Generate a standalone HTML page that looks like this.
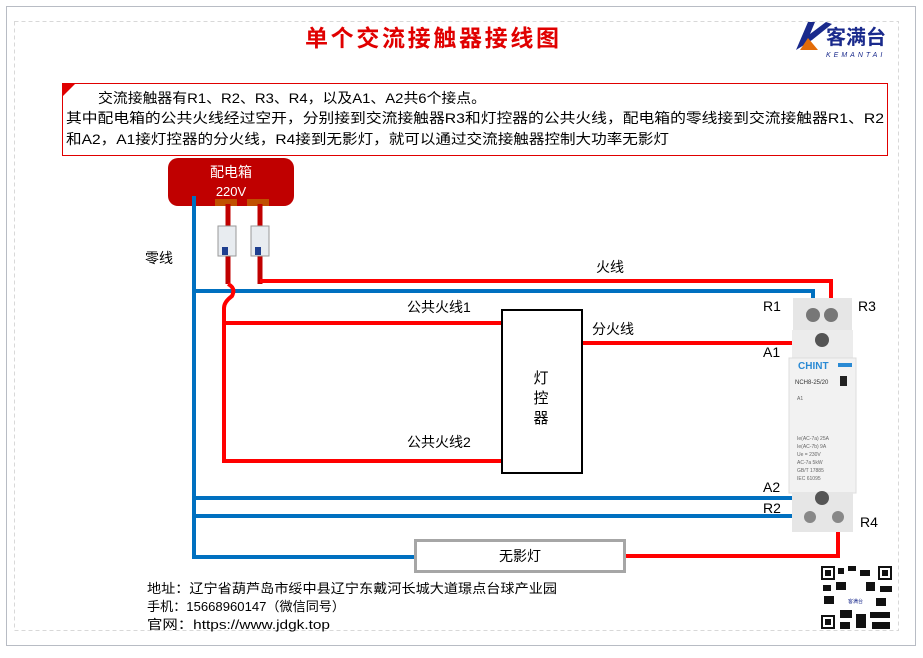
<!DOCTYPE html>
<html><head><meta charset="utf-8"><style>
body{margin:0;width:923px;height:653px;background:#fff;overflow:hidden;font-family:"Liberation Sans","Noto Sans CJK SC",sans-serif}
svg text{font-family:"Liberation Sans","Noto Sans CJK SC",sans-serif}
</style></head><body>
<svg width="923" height="653" xmlns="http://www.w3.org/2000/svg">
<rect x="6.5" y="6.5" width="909" height="639" fill="#fff" stroke="#b8bcc4"/>
<rect x="14.5" y="21.5" width="884" height="609" fill="none" stroke="#d8d8d8" stroke-dasharray="4,3"/>
<text x="432" y="46" text-anchor="middle" font-size="23" font-weight="bold" fill="#e00000" textLength="254">单个交流接触器接线图</text>
<!-- logo -->
<path d="M796 50 L808 22 L815 22 L810 34 L826 22 L832 24 L812 40 Z" fill="#1a2a8c"/>
<path d="M800 50 L808 38 L818 50 Z" fill="#e36c09"/>
<text x="826" y="44" font-size="20" font-weight="bold" fill="#1a2a8c">客满台</text>
<text x="826" y="57" font-size="7" fill="#1a2a8c" letter-spacing="3" font-style="italic">KEMANTAI</text>
<!-- text box -->
<rect x="62.5" y="83.5" width="825" height="72" fill="#fff" stroke="#e00000"/>
<path d="M62 83 L76 83 L62 97 Z" fill="#e00000"/>
<g font-size="14" fill="#000">
<text x="98" y="103" textLength="388" lengthAdjust="spacingAndGlyphs">交流接触器有R1、R2、R3、R4，以及A1、A2共6个接点。</text>
<text x="66" y="123" textLength="818" lengthAdjust="spacingAndGlyphs">其中配电箱的公共火线经过空开，分别接到交流接触器R3和灯控器的公共火线，配电箱的零线接到交流接触器R1、R2</text>
<text x="66" y="144" textLength="603" lengthAdjust="spacingAndGlyphs">和A2，A1接灯控器的分火线，R4接到无影灯，就可以通过交流接触器控制大功率无影灯</text>
</g>
<!-- distribution box -->
<rect x="168" y="158" width="126" height="48" rx="10" fill="#c00000"/>
<text x="231" y="177" text-anchor="middle" font-size="14" fill="#fff">配电箱</text>
<text x="231" y="196" text-anchor="middle" font-size="13" fill="#fff">220V</text>
<rect x="215" y="199" width="22" height="7" fill="#c05000"/>
<rect x="247" y="199" width="22" height="7" fill="#c05000"/>
<!-- blue wires -->
<g stroke="#0070c0" stroke-width="4" fill="none">
<path d="M194 196 V557 H415"/>
<path d="M194 291 H813 V313"/>
<path d="M194 498 H822"/>
<path d="M194 516 H812"/>
</g>
<g stroke="#c00000" stroke-width="5" fill="none">
<path d="M228 204 V284"/><path d="M260 204 V284"/>
</g>
<g stroke="#ff0000" stroke-width="4" fill="none">
<path d="M260 281 H831 V313"/>
<path d="M228 284 q8 4 4 12 q-8 6 -8 12 V461 H502"/>
<path d="M224 323 H502"/>
<path d="M582 343 H822"/>
<path d="M624 556 H838 V520"/>
</g>
<g><rect x="218" y="226" width="18" height="30" fill="#e8ecf0" stroke="#999"/><rect x="222" y="247" width="6" height="8" fill="#1f3f8f"/>
<rect x="251" y="226" width="18" height="30" fill="#e8ecf0" stroke="#999"/><rect x="255" y="247" width="6" height="8" fill="#1f3f8f"/></g>
<rect x="502" y="310" width="80" height="163" fill="#fff" stroke="#000" stroke-width="2"/>
<text x="541" y="383" text-anchor="middle" font-size="15">灯</text>
<text x="541" y="403" text-anchor="middle" font-size="15">控</text>
<text x="541" y="423" text-anchor="middle" font-size="15">器</text>
<rect x="415.5" y="540.5" width="209" height="31" fill="#fff" stroke="#a6a6a6" stroke-width="3"/>
<text x="520" y="561" text-anchor="middle" font-size="14">无影灯</text>
<rect x="793" y="298" width="59" height="34" fill="#e6e6e6"/>
<rect x="792" y="330" width="61" height="30" fill="#ececec"/>
<rect x="789" y="358" width="67" height="135" fill="#f2f2f2" stroke="#ddd"/>
<rect x="792" y="492" width="61" height="40" fill="#e6e6e6"/>
<circle cx="813" cy="315" r="7" fill="#777"/><circle cx="831" cy="315" r="7" fill="#777"/>
<circle cx="822" cy="340" r="7" fill="#555"/><circle cx="822" cy="498" r="7" fill="#555"/>
<circle cx="810" cy="517" r="6" fill="#888"/><circle cx="838" cy="517" r="6" fill="#888"/>
<text x="798" y="369" font-size="10" font-weight="bold" fill="#2a8ad4">CHINT</text>
<rect x="838" y="363" width="14" height="4" fill="#2a8ad4"/>
<text x="795" y="384" font-size="6" fill="#333">NCH8-25/20</text>
<rect x="840" y="376" width="7" height="10" fill="#222"/>
<g font-size="5" fill="#666"><text x="797" y="400">A1</text><text x="797" y="440">Ie(AC-7a) 25A</text><text x="797" y="448">Ie(AC-7b) 9A</text><text x="797" y="456">Ue = 230V</text><text x="797" y="464">AC-7a 5kW</text><text x="797" y="472">GB/T 17885</text><text x="797" y="480">IEC 61095</text></g>
<g font-size="14" fill="#000">
<text x="145" y="263">零线</text>
<text x="596" y="272">火线</text>
<text x="407" y="312">公共火线1</text>
<text x="592" y="334">分火线</text>
<text x="407" y="447">公共火线2</text>
<text x="763" y="311">R1</text><text x="858" y="311">R3</text>
<text x="763" y="357">A1</text>
<text x="763" y="492">A2</text><text x="763" y="513">R2</text>
<text x="860" y="527">R4</text>
</g>
<g font-size="13" fill="#000">
<text x="147" y="593" textLength="410" lengthAdjust="spacingAndGlyphs">地址：辽宁省葫芦岛市绥中县辽宁东戴河长城大道璟点台球产业园</text>
<text x="147" y="611" textLength="198" lengthAdjust="spacingAndGlyphs">手机：15668960147（微信同号）</text>
<text x="147" y="629" textLength="183" lengthAdjust="spacingAndGlyphs">官网：https://www.jdgk.top</text>
</g>
<rect x="820" y="565" width="73" height="65" fill="#fff"/>
<g fill="#111">
<rect x="821" y="566" width="14" height="14"/><rect x="878" y="566" width="14" height="14"/><rect x="821" y="615" width="14" height="14"/>
<rect x="838" y="568" width="6" height="6"/><rect x="848" y="566" width="8" height="5"/><rect x="860" y="570" width="10" height="6"/>
<rect x="823" y="585" width="8" height="6"/><rect x="836" y="582" width="10" height="8"/><rect x="866" y="582" width="9" height="9"/><rect x="880" y="586" width="12" height="6"/>
<rect x="824" y="596" width="10" height="8"/><rect x="876" y="598" width="10" height="8"/><rect x="840" y="610" width="12" height="8"/><rect x="856" y="614" width="10" height="14"/><rect x="870" y="612" width="20" height="6"/><rect x="872" y="622" width="18" height="7"/><rect x="840" y="622" width="10" height="7"/>
</g>
<rect x="823" y="568" width="10" height="10" fill="#fff"/><rect x="825" y="570" width="6" height="6" fill="#111"/>
<rect x="880" y="568" width="10" height="10" fill="#fff"/><rect x="882" y="570" width="6" height="6" fill="#111"/>
<rect x="823" y="617" width="10" height="10" fill="#fff"/><rect x="825" y="619" width="6" height="6" fill="#111"/>
<rect x="845" y="593" width="22" height="14" fill="#fff"/><text x="848" y="603" font-size="5" fill="#1a2a8c">客满台</text>
</svg>
</body></html>
